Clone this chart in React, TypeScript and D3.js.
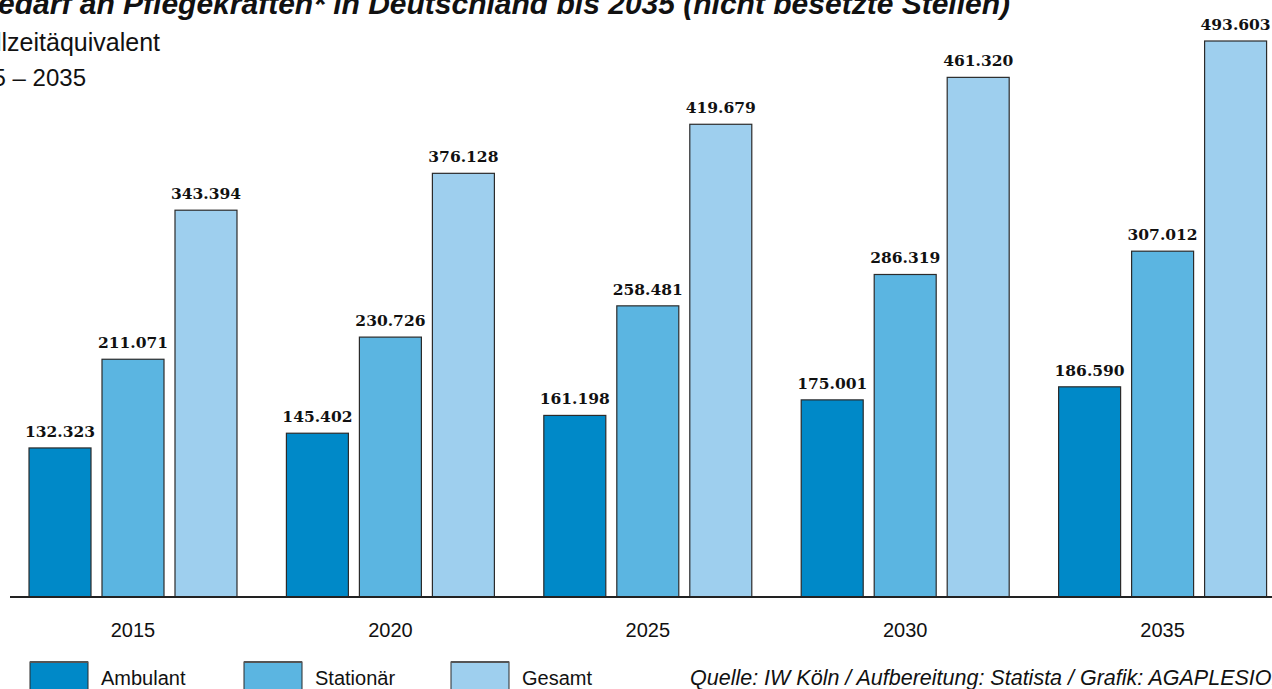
import * as d3 from "d3";

const years = ["2015", "2020", "2025", "2030", "2035"];
const seriesNames = ["Ambulant", "Stationär", "Gesamt"];
const ambulant = [132323, 145402, 161198, 175001, 186590];
const stationaer = [211071, 230726, 258481, 286319, 307012];
const gesamt = [343394, 376128, 419679, 461320, 493603];
const colors = ["#0089c8", "#5bb5e1", "#9ecfee"];

const W = 1272;
const H = 689;
const baseY = 597;

export default function App() {
  const values = [ambulant, stationaer, gesamt];

  const x = d3.scaleBand<string>().domain(years).range([4.3, 1291.3]).paddingInner(0.192).paddingOuter(0.096);
  const x1 = d3.scaleBand<string>().domain(seriesNames).range([0, x.bandwidth()]).paddingInner(0.1507).paddingOuter(0);
  const y = d3.scaleLinear().domain([0, 500000]).range([baseY, baseY - 563.2]);

  const fmt = (v: number) => d3.format(",")(v).replace(/,/g, ".");

  const bars = years.flatMap((yr, i) =>
    seriesNames.map((s, j) => ({ yr, s, j, v: values[j][i] }))
  );

  const sans = "'Liberation Sans', 'DejaVu Sans', sans-serif";

  return (
    <svg width={W} height={H} style={{ position: "absolute", left: 0, top: 0, background: "#fff" }}>
      {/* title, cut off at the top like the reference */}
      <text x={1010} y={14} textAnchor="end" fontFamily={sans} fontWeight="bold" fontStyle="italic" fontSize={30} fill="#111">
        Bedarf an Pflegekräften* in Deutschland bis 2035 (nicht besetzte Stellen)
      </text>
      <text x={160} y={51} textAnchor="end" fontFamily={sans} fontSize={25} fill="#111">
        in Vollzeitäquivalent
      </text>
      <text x={86} y={86} textAnchor="end" fontFamily={sans} fontSize={24} fill="#111">
        2015 – 2035
      </text>

      {bars.map((d) => {
        const bx = (x(d.yr) ?? 0) + (x1(d.s) ?? 0);
        const by = y(d.v);
        return (
          <g key={d.yr + d.s}>
            <rect x={bx} y={by} width={x1.bandwidth()} height={baseY - by} fill={colors[d.j]} stroke="#2b2b2b" strokeWidth={1.2} />
            <text x={bx + x1.bandwidth() / 2} y={by - 11} textAnchor="middle" fontFamily="'DejaVu Serif', serif" fontWeight="bold" fontSize={15.5} fill="#111">
              {fmt(d.v)}
            </text>
          </g>
        );
      })}

      <line x1={10} x2={W} y1={baseY} y2={baseY} stroke="#222" strokeWidth={2} />

      {years.map((yr) => (
        <text key={yr} x={(x(yr) ?? 0) + x.bandwidth() / 2} y={637} textAnchor="middle" fontFamily={sans} fontSize={20} fill="#111">
          {yr}
        </text>
      ))}

      {seriesNames.map((s, j) => {
        const lx = [30, 244, 451][j];
        return (
          <g key={s}>
            <rect x={lx} y={662} width={58} height={40} fill={colors[j]} stroke="#2b2b2b" strokeWidth={1} />
            <line x1={lx} x2={lx + 58} y1={662} y2={662} stroke="#555" strokeWidth={2} />
            <text x={lx + 71} y={685} fontFamily={sans} fontSize={20} fill="#111">
              {s}
            </text>
          </g>
        );
      })}

      <text x={690} y={685} fontFamily={sans} fontStyle="italic" fontSize={21.5} fill="#111">
        Quelle: IW Köln / Aufbereitung: Statista / Grafik: AGAPLESION
      </text>
    </svg>
  );
}
